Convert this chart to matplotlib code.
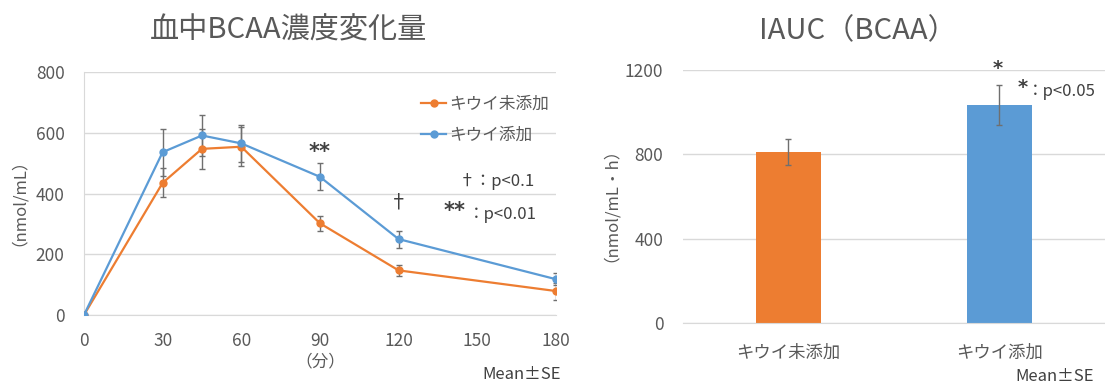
import matplotlib
matplotlib.use('Agg')
import matplotlib.pyplot as plt

plt.rcParams['font.family'] = ['Noto Sans CJK JP', 'DejaVu Sans']

# 血中BCAA濃度変化量 (line chart)
minutes = [0, 30, 45, 60, 90, 120, 180]
no_kiwi = [0, 435, 547, 554, 302, 147, 79]
no_kiwi_se = [0, 48, 65, 65, 24, 17, 28]
kiwi = [0, 536, 591, 565, 455, 250, 118]
kiwi_se = [0, 77, 67, 62, 44, 28, 20]
x_ticks = [0, 30, 60, 90, 120, 150, 180]
y_ticks_left = [0, 200, 400, 600, 800]

# IAUC (bar chart)
groups = ['キウイ未添加', 'キウイ添加']
iauc = [809, 1034]
iauc_se = [62, 96]
y_ticks_right = [0, 400, 800, 1200]

orange = '#ED7D31'
blue = '#5B9BD5'
txt = '#595959'
dark = '#404040'
grid = '#D9D9D9'
star = dict(family='DejaVu Sans', fontweight='bold', color=dark)

fig = plt.figure(figsize=(11.05, 3.83), dpi=100)

# ---- left chart
ax = fig.add_axes([0.076, 0.1775, 0.427, 0.6345])
ax.errorbar(minutes, no_kiwi, yerr=no_kiwi_se, fmt='none', ecolor='#6f6f6f',
            elinewidth=1, capsize=2.5, zorder=2)
ax.errorbar(minutes, kiwi, yerr=kiwi_se, fmt='none', ecolor='#6f6f6f',
            elinewidth=1, capsize=2.5, zorder=2)
ax.plot(minutes, no_kiwi, color=orange, lw=1.6, marker='o', ms=5, label='キウイ未添加', zorder=3)
ax.plot(minutes, kiwi, color=blue, lw=1.6, marker='o', ms=5, label='キウイ添加', zorder=3)
ax.set_xlim(0, 180)
ax.set_ylim(0, 800)
ax.set_xticks(x_ticks)
ax.set_yticks(y_ticks_left)
ax.tick_params(length=0, labelsize=12.5, labelcolor=txt)
ax.tick_params(axis='y', pad=14)
ax.tick_params(axis='x', pad=12)
ax.grid(axis='y', color=grid, lw=1)
ax.set_axisbelow(True)
for s in ['top', 'right']:
    ax.spines[s].set_visible(False)
ax.spines['left'].set_color(grid)
ax.spines['bottom'].set_color(grid)
ax.set_ylabel('（nmol/mL）', fontsize=12, color=txt, labelpad=12)
ax.set_xlabel('（分）', fontsize=12, color=txt, labelpad=3)
fig.text(288 / 1105, 1 - 30 / 383, '血中BCAA濃度変化量', ha='center', va='center',
         fontsize=21, color=txt)
ax.legend(loc='upper right', bbox_to_anchor=(1.0, 0.93), frameon=False, fontsize=12,
          labelcolor=txt, handlelength=1.5, handletextpad=0.2, labelspacing=0.85,
          borderaxespad=0)
ax.text(90, 537, '**', ha='center', va='center', fontsize=15, **star)
ax.text(120, 369, '†', ha='center', va='center', fontsize=14, color=dark)
ax.text(143, 438, '†：p<0.1', ha='left', va='center', fontsize=12, color=dark)
ax.text(137, 342, '**', ha='left', va='center', fontsize=15, **star)
ax.text(146.5, 332, '：p<0.01', ha='left', va='center', fontsize=12, color=dark)
fig.text(0.508, 0.023, 'Mean±SE', ha='right', va='center', fontsize=12, color=dark)

# ---- right chart
ax2 = fig.add_axes([0.618, 0.1567, 0.382, 0.6606])
pos = range(len(groups))
ax2.bar(pos, iauc, width=0.31, color=[orange, blue], zorder=2)
ax2.errorbar(pos, iauc, yerr=iauc_se, fmt='none', ecolor='#6f6f6f',
             elinewidth=1, capsize=2.5, zorder=3)
ax2.set_xlim(-0.5, 1.5)
ax2.set_ylim(0, 1200)
ax2.set_xticks(list(pos))
ax2.set_xticklabels(groups)
ax2.set_yticks(y_ticks_right)
ax2.tick_params(length=0, labelsize=12.5, labelcolor=txt, pad=14)
ax2.tick_params(axis='x', pad=15)
ax2.grid(axis='y', color=grid, lw=1)
ax2.set_axisbelow(True)
for s in ['top', 'right', 'left']:
    ax2.spines[s].set_visible(False)
ax2.spines['bottom'].set_color(grid)
ax2.set_ylabel('（nmol/mL・h）', fontsize=12, color=txt, labelpad=10)
fig.text(858 / 1105, 1 - 31 / 383, 'IAUC（BCAA）', ha='center', va='center',
         fontsize=21, color=txt)
ax2.text(0.99, 1205, '*', ha='center', va='center', fontsize=14, clip_on=False, **star)
ax2.text(1.11, 1115, '*', ha='center', va='center', fontsize=14, clip_on=False, **star)
ax2.text(1.13, 1100, '：p<0.05', ha='left', va='center', fontsize=12, color=dark, clip_on=False)
fig.text(0.99, 0.018, 'Mean±SE', ha='right', va='center', fontsize=12, color=dark)

fig.savefig('out.png', dpi=100)
